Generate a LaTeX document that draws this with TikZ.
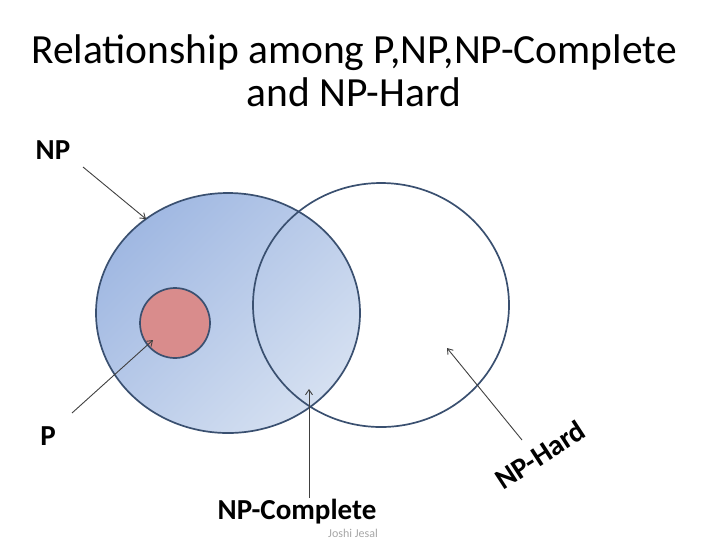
\documentclass[tikz,border=0pt]{standalone}
\usepackage{fontspec}
\setmainfont{Carlito}
\usetikzlibrary{arrows.meta,shapes.geometric}
\definecolor{setedge}{HTML}{3A5070}
\definecolor{npdark}{HTML}{A0B8E2}
\definecolor{nplight}{HTML}{D5E0F1}
\definecolor{pfill}{HTML}{D98C8C}
\definecolor{pointer}{HTML}{404040}
\tikzset{
  setline/.style={draw=setedge, line width=1.7pt},
  setshape/.style={ellipse, inner sep=0pt, outer sep=0pt},
  pointer/.style={draw=pointer, line width=0.9pt, -{Straight Barb[length=5pt,width=7pt]}},
  setlabel/.style={font=\bfseries\fontsize{29}{34}\selectfont, inner sep=0pt},
}
\begin{document}
\begin{tikzpicture}[x=1pt, y=-1pt]
  \useasboundingbox (0,0) rectangle (708,558);
  % title
  \node[align=center, font=\fontsize{41.5}{43}\selectfont] (title) at (354,71)
    {Relationship among P,NP,NP-Complete\\and NP-Hard};
  % NP set with gradient fill
  \node[setshape, minimum width=264pt, minimum height=240pt,
        left color=npdark, right color=nplight, shading angle=45] (np) at (228,313) {};
  % NP-Hard set, outline only
  \node[setshape, setline, minimum width=256pt, minimum height=244pt] (nphard) at (381,305) {};
  % NP outline on top
  \node[setshape, setline, minimum width=264pt, minimum height=240pt] (npedge) at (np) {};
  % P set
  \node[circle, setline, fill=pfill, minimum size=70pt, inner sep=0pt] (p) at (175,323) {};
  % labels
  \node[setlabel] (lnp) at (53,150) {NP};
  \node[setlabel] (lp) at (48,436) {P};
  \node[setlabel] (lnpc) at (297,512) {NP-Complete};
  \node[setlabel, rotate=33] (lnph) at (540,455) {NP-Hard};
  \node[font=\fontsize{12}{14}\selectfont, text=gray!70, inner sep=0pt] (author) at (353,533) {Joshi Jesal};
  % pointers
  \coordinate (a1) at (83,167);  \coordinate (b1) at (146,219);
  \coordinate (a2) at (72,413);  \coordinate (b2) at (153,340);
  \coordinate (a3) at (309,498); \coordinate (b3) at (309,389);
  \coordinate (a4) at (522,440); \coordinate (b4) at (447,348);
  \draw[pointer] (a1) -- (b1);
  \draw[pointer] (a2) -- (b2);
  \draw[pointer] (a3) -- (b3);
  \draw[pointer] (a4) -- (b4);
\end{tikzpicture}
\end{document}
